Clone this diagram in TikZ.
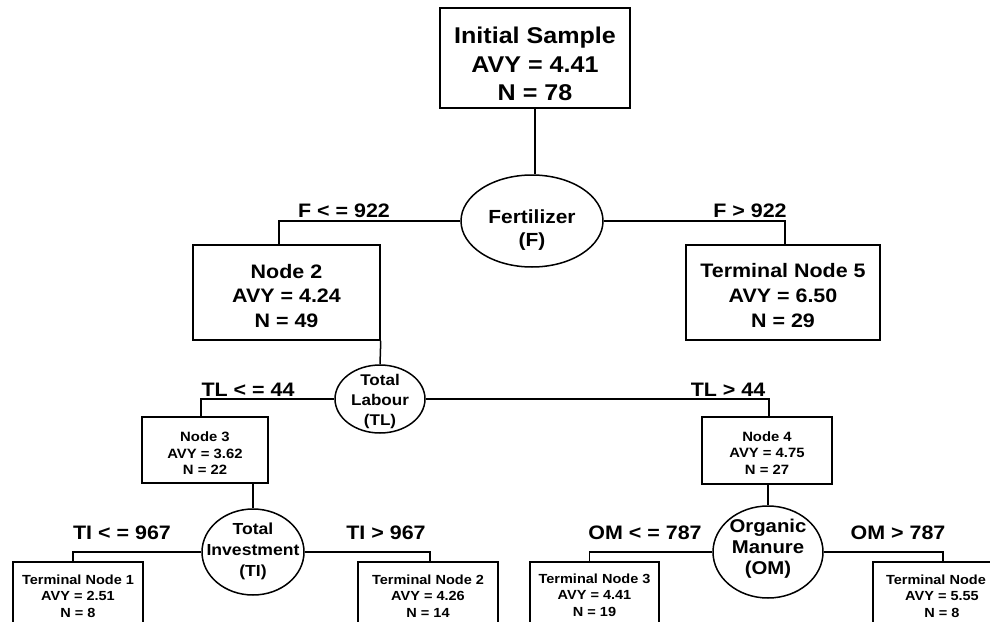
\documentclass[tikz,border=0pt]{standalone}
\usepackage{fontspec}
\setmainfont[FakeStretch=1.1]{Liberation Sans}
\usetikzlibrary{shapes.geometric}
\begin{document}
\begin{tikzpicture}[x=1pt,y=-1pt,line width=1.5pt,
  box/.style={draw,rectangle,inner sep=0pt},
  oval/.style={draw,ellipse,inner sep=0pt},
  txt/.style={align=center,inner sep=0pt},
  lbl/.style={font=\fontsize{19.5}{23}\selectfont\bfseries,inner sep=0pt},
  fbig/.style={font=\fontsize{22.8}{28.5}\selectfont\bfseries},
  ffer/.style={font=\fontsize{19}{23}\selectfont\bfseries},
  fmid/.style={font=\fontsize{19.5}{24.7}\selectfont\bfseries},
  ftl/.style={font=\fontsize{15.5}{20}\selectfont\bfseries},
  fnd/.style={font=\fontsize{13.5}{16.5}\selectfont\bfseries},
  ftn/.style={font=\fontsize{13.2}{16.5}\selectfont\bfseries},
  fti/.style={font=\fontsize{16}{21}\selectfont\bfseries},
  fom/.style={font=\fontsize{18.5}{21}\selectfont\bfseries}]
\useasboundingbox (0,0) rectangle (990,621);
\clip (0,0) rectangle (990,621);
% shapes
\node[box,minimum width=190,minimum height=100] (init) at (535,58) {};
\node[oval,minimum width=142,minimum height=92] (fert) at (532,221) {};
\node[box,minimum width=187,minimum height=95] (n2) at (286.5,292.5) {};
\node[box,minimum width=194,minimum height=95] (t5) at (783,292.5) {};
\node[oval,minimum width=90,minimum height=68] (tl) at (380,399) {};
\node[box,minimum width=126,minimum height=66] (n3) at (205,450) {};
\node[box,minimum width=130,minimum height=67] (n4) at (767,450.5) {};
\node[oval,minimum width=102,minimum height=86] (ti) at (253,552) {};
\node[oval,minimum width=110,minimum height=92] (om) at (768,552) {};
\node[box,minimum width=130,minimum height=66] (t1) at (78,595) {};
\node[box,minimum width=140,minimum height=66] (t2) at (428,595) {};
\node[box,minimum width=129,minimum height=66] (t3) at (594.5,595) {};
\node[box,minimum width=138,minimum height=66] (t4) at (942,595) {};
% texts
\node[txt,fbig] (initT) at (535,64) {Initial Sample\\AVY = 4.41\\N = 78};
\node[txt,ffer] (fertT) at (532,230.5) {Fertilizer\\(F)};
\node[txt,fmid] (n2T) at (286.5,296) {Node 2\\AVY = 4.24\\N = 49};
\node[txt,fmid] (t5T) at (783,295.5) {Terminal Node 5\\AVY = 6.50\\N = 29};
\node[txt,ftl] (tlT) at (380,401) {Total\\Labour\\(TL)};
\node[txt,fnd] (n3T) at (205,453.5) {Node 3\\AVY = 3.62\\N = 22};
\node[txt,fnd] (n4T) at (767,453) {Node 4\\AVY = 4.75\\N = 27};
\node[txt,fti] (tiT) at (253,551) {Total\\Investment\\(TI)};
\node[txt,fom] (omT) at (768,549) {Organic\\Manure\\(OM)};
\node[txt,ftn] (t1T) at (78,596) {Terminal Node 1\\AVY = 2.51\\N = 8};
\node[txt,ftn] (t2T) at (428,596) {Terminal Node 2\\AVY = 4.26\\N = 14};
\node[txt,ftn] (t3T) at (594.5,595) {Terminal Node 3\\AVY = 4.41\\N = 19};
\node[txt,ftn] (t4T) at (942,596) {Terminal Node\phantom{ 4}\\AVY = 5.55\\N = 8};
% connectors
\draw (init.south) -- (init.south |- fert.north);
\draw (fert.west) -| ([xshift=-7.5]n2.north);
\draw (fert.east) -| ([xshift=2]t5.north);
\draw (n2.south east) -- (tl.north);
\draw (tl.west) -| ([xshift=-4]n3.north);
\draw (tl.east) -| ([xshift=2]n4.north);
\draw (ti.north |- n3.south) -- (ti.north);
\draw (om.north |- n4.south) -- (om.north);
\draw (ti.west) -| ([xshift=-5]t1.north);
\draw (ti.east) -| ([xshift=2]t2.north);
\draw (om.west) -| ([xshift=-5]t3.north);
\draw (om.east) -| ([xshift=1]t4.north);
% labels
\node[lbl] (l1) at (344,211) {F < = 922};
\node[lbl] (l2) at (750,211) {F > 922};
\node[lbl] (l3) at (248,390) {TL < = 44};
\node[lbl] (l4) at (728,390) {TL > 44};
\node[lbl] (l5) at (122,533) {TI < = 967};
\node[lbl] (l6) at (386,533) {TI > 967};
\node[lbl] (l7) at (645,533) {OM < = 787};
\node[lbl] (l8) at (898,533) {OM > 787};
\end{tikzpicture}
\end{document}
